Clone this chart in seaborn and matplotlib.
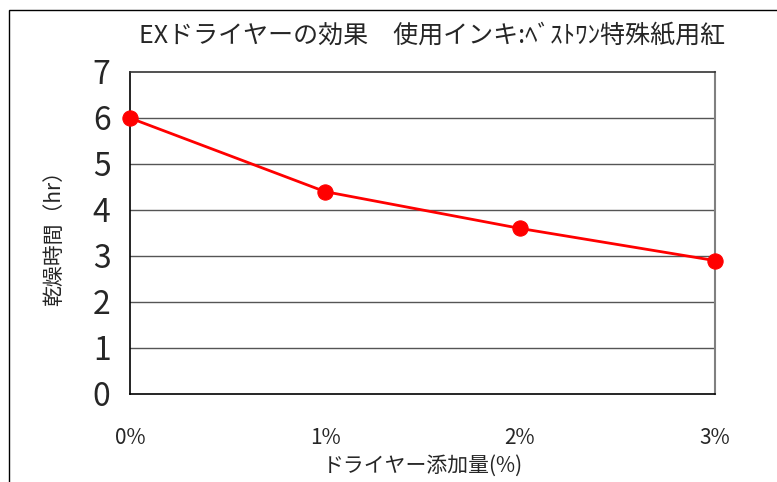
import matplotlib

matplotlib.use("Agg")
import matplotlib.pyplot as plt
import matplotlib.patches as patches
import pandas as pd
import seaborn as sns

title = "EXドライヤーの効果　使用インキ:ﾍﾞｽﾄﾜﾝ特殊紙用紅"
x_labels = ["0%", "1%", "2%", "3%"]
dry_hours = [6.0, 4.4, 3.6, 2.9]
y_ticks = [0, 1, 2, 3, 4, 5, 6, 7]

sns.set_style("white")
plt.rcParams["font.family"] = ["Noto Sans CJK JP", "DejaVu Sans"]

df = pd.DataFrame({"pos": range(len(x_labels)), "hours": dry_hours})

fig = plt.figure(figsize=(7.77, 4.82), dpi=100)
ax = fig.add_axes([130 / 777, 1 - 394 / 482, (715 - 130) / 777, (394 - 72) / 482])

# outer chart frame (partly cut off at right and bottom)
fig.patches.append(patches.Rectangle((9 / 777, -0.1), 1.2, 0.1 + (1 - 10 / 482),
                                     transform=fig.transFigure, fill=False,
                                     edgecolor="black", linewidth=1.0))

for v in y_ticks[1:-1]:
    ax.axhline(v, color="#555555", linewidth=1.0, zorder=1)

sns.lineplot(data=df, x="pos", y="hours", ax=ax, color="#ff0000", linewidth=2.0,
             marker="o", markersize=11, markeredgecolor="#ff0000", zorder=3, clip_on=False)

ax.set_xlim(0, len(x_labels) - 1)
ax.set_ylim(0, 7)
ax.set_xticks(range(len(x_labels)))
ax.set_xticklabels(x_labels, fontsize=15)
ax.set_yticks(y_ticks)
ax.set_yticklabels([str(v) for v in y_ticks], fontsize=23)
ax.tick_params(axis="x", direction="in", length=5, width=0.8, color="#333333", pad=24)
ax.tick_params(axis="y", length=0, pad=14)

for side in ["left", "bottom"]:
    ax.spines[side].set_color("black")
    ax.spines[side].set_linewidth(1.2)
ax.spines["top"].set_color("#333333")
ax.spines["top"].set_linewidth(1.2)
ax.spines["right"].set_color("#808080")
ax.spines["right"].set_linewidth(1.5)

ax.set_xlabel("ドライヤー添加量(%)", fontsize=15, labelpad=4)
ax.set_ylabel("乾燥時間（hr）", fontsize=15, labelpad=20)
fig.text(432 / 777, 1 - 36 / 482, title, fontsize=18, ha="center", va="center")

fig.savefig("out.png", dpi=100)
